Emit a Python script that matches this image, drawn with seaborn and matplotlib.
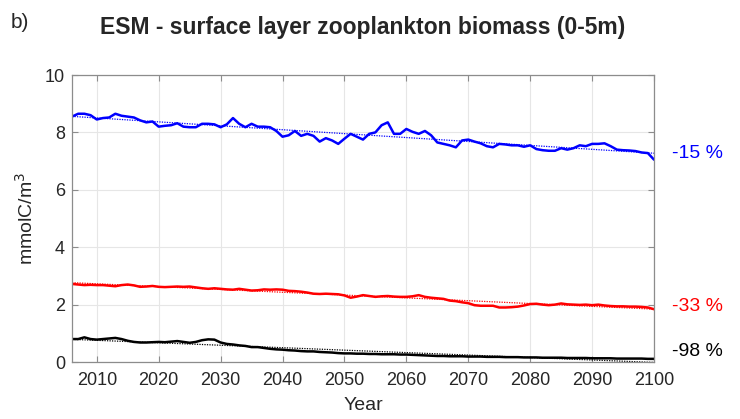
import numpy as np
import pandas as pd
import seaborn as sns
import matplotlib
matplotlib.use("Agg")
from matplotlib import pyplot as plt
import matplotlib.transforms as mtransforms

# annual values, 2006-2100
years = np.arange(2006, 2101)

blue_vals = [
    8.55, 8.65, 8.65, 8.60, 8.45, 8.50, 8.52, 8.65, 8.58, 8.55,
    8.52, 8.42, 8.35, 8.38, 8.20, 8.23, 8.25, 8.32, 8.20, 8.18,
    8.18, 8.30, 8.30, 8.28, 8.18, 8.28, 8.50, 8.30, 8.18, 8.30,
    8.20, 8.20, 8.18, 8.05, 7.85, 7.90, 8.05, 7.88, 7.95, 7.88,
    7.68, 7.80, 7.72, 7.60, 7.78, 7.95, 7.85, 7.75, 7.95, 8.00,
    8.25, 8.35, 7.95, 7.95, 8.12, 8.02, 7.95, 8.05, 7.90, 7.65,
    7.60, 7.55, 7.48, 7.72, 7.75, 7.68, 7.62, 7.52, 7.48, 7.60,
    7.58, 7.55, 7.55, 7.50, 7.55, 7.42, 7.38, 7.36, 7.36, 7.45,
    7.40, 7.45, 7.55, 7.52, 7.60, 7.60, 7.62, 7.52, 7.40, 7.38,
    7.37, 7.35, 7.30, 7.28, 7.05,
]
red_vals = [
    2.72, 2.70, 2.68, 2.69, 2.68, 2.68, 2.66, 2.64, 2.68, 2.70,
    2.67, 2.62, 2.63, 2.65, 2.62, 2.61, 2.62, 2.63, 2.62, 2.63,
    2.60, 2.57, 2.55, 2.57, 2.55, 2.53, 2.52, 2.55, 2.52, 2.49,
    2.50, 2.53, 2.52, 2.53, 2.52, 2.48, 2.47, 2.45, 2.42, 2.38,
    2.37, 2.38, 2.37, 2.36, 2.32, 2.24, 2.28, 2.33, 2.30, 2.27,
    2.29, 2.30, 2.28, 2.27, 2.27, 2.29, 2.33, 2.27, 2.24, 2.22,
    2.20, 2.14, 2.12, 2.08, 2.05, 1.98, 1.96, 1.96, 1.96, 1.90,
    1.90, 1.91, 1.93, 1.97, 2.02, 2.03, 2.00, 1.98, 2.00, 2.04,
    2.01, 2.00, 1.99, 2.00, 1.98, 2.00, 1.97, 1.95, 1.94, 1.94,
    1.93, 1.93, 1.92, 1.90, 1.84,
]
black_vals = [
    0.80, 0.80, 0.86, 0.80, 0.78, 0.80, 0.82, 0.84, 0.80, 0.74,
    0.70, 0.68, 0.68, 0.69, 0.70, 0.69, 0.71, 0.73, 0.70, 0.67,
    0.70, 0.76, 0.79, 0.78, 0.68, 0.63, 0.61, 0.58, 0.56, 0.52,
    0.52, 0.49, 0.46, 0.44, 0.43, 0.41, 0.40, 0.38, 0.37, 0.37,
    0.35, 0.34, 0.33, 0.31, 0.30, 0.30, 0.29, 0.29, 0.28, 0.28,
    0.27, 0.27, 0.27, 0.26, 0.26, 0.25, 0.24, 0.23, 0.22, 0.21,
    0.21, 0.20, 0.20, 0.20, 0.19, 0.19, 0.19, 0.18, 0.18, 0.18,
    0.17, 0.17, 0.17, 0.16, 0.16, 0.16, 0.15, 0.15, 0.15, 0.15,
    0.14, 0.14, 0.14, 0.14, 0.13, 0.13, 0.13, 0.13, 0.12, 0.12,
    0.12, 0.12, 0.12, 0.11, 0.11,
]

series_names = ["blue", "red", "black"]
series_colors = ["#0000ff", "#ff0000", "#000000"]
pct_labels = ["-15 %", "-33 %", "-98 %"]
pct_label_y = [7.25, 1.92, 0.35]

df = pd.DataFrame({
    "year": np.tile(years, 3),
    "value": blue_vals + red_vals + black_vals,
    "series": np.repeat(series_names, len(years)),
})

sns.set_style("ticks")
plt.rcParams["font.family"] = ["Liberation Sans", "DejaVu Sans"]

fig = plt.figure(figsize=(7.4, 4.19), dpi=100)
ax = fig.add_axes([0.0973, 0.136, 0.7865, 0.685])

sns.lineplot(data=df, x="year", y="value", hue="series", hue_order=series_names,
             palette=series_colors, linewidth=1.8, legend=False, ax=ax)

# dotted linear trends
for name, col in zip(series_names, series_colors):
    d = df[df["series"] == name]
    coef = np.polyfit(d["year"], d["value"], 1)
    ax.plot(years, np.polyval(coef, years), linestyle=(0, (1, 1)),
            color=col, linewidth=0.9)

ax.set_xlim(2006, 2100)
ax.set_ylim(0, 10)
ax.set_xticks(np.arange(2010, 2101, 10))
ax.set_yticks(np.arange(0, 11, 2))
ax.grid(True, color="#e6e6e6", linewidth=0.8)
ax.set_axisbelow(True)
for sp in ax.spines.values():
    sp.set_color("#8c8c8c")
    sp.set_linewidth(0.9)
ax.tick_params(direction="in", top=True, right=True, length=4,
               color="#8c8c8c", labelsize=13, labelcolor="#262626")
ax.tick_params(axis="x", pad=7)
ax.tick_params(axis="y", pad=5)

ax.set_xlabel("Year", fontsize=14, color="#262626", labelpad=6)
ax.set_ylabel("mmolC/m$^3$", fontsize=14, color="#262626", labelpad=6)

trans = mtransforms.blended_transform_factory(ax.transAxes, ax.transData)
for lab, y, col in zip(pct_labels, pct_label_y, series_colors):
    ax.text(1.031, y, lab, transform=trans, color=col, fontsize=14,
            va="center", ha="left", clip_on=False)

fig.text(0.49, 0.935, "ESM - surface layer zooplankton biomass (0-5m)",
         ha="center", va="center", fontsize=16.5, fontweight="bold")
fig.text(0.015, 0.947, "b)", ha="left", va="center", fontsize=15)

fig.savefig("out.png", dpi=100)
